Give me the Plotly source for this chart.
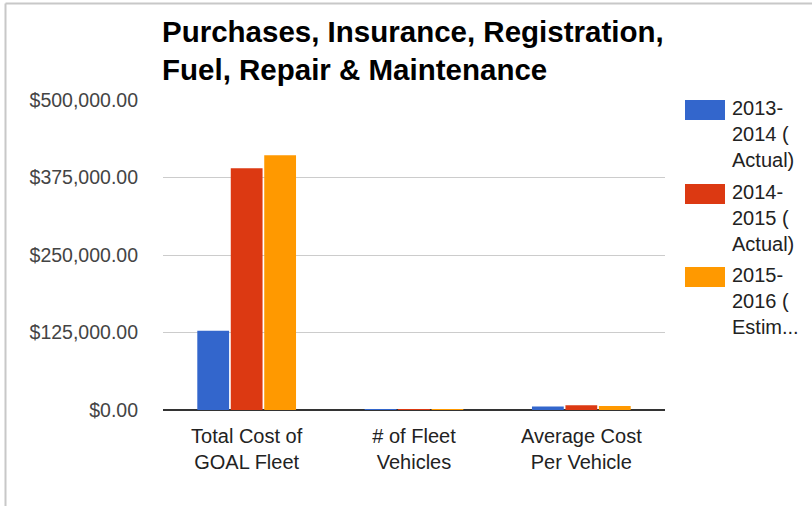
import plotly.graph_objects as go

categories = ["Total Cost of<br>GOAL Fleet", "# of Fleet<br>Vehicles", "Average Cost<br>Per Vehicle"]
series_names = ["2013-<br>2014 (<br>Actual)", "2014-<br>2015 (<br>Actual)", "2015-<br>2016 (<br>Estim..."]
series_full = ["2013-2014 (Actual)", "2014-2015 (Actual)", "2015-2016 (Estimated)"]
values_2013 = [128000, 23, 5500]
values_2014 = [390000, 50, 7800]
values_2015 = [411000, 65, 6300]
colors = ["#3366CC", "#DC3912", "#FF9900"]
y_ticks = [0, 125000, 250000, 375000, 500000]
title_text = "Purchases, Insurance, Registration,<br>Fuel, Repair & Maintenance"

W, H = 812, 506
L, R, T, B = 163, 147, 100, 96
PW, PH = W - L - R, H - T - B

def px(x):
    return (x - L) / PW

def py(y):
    return (H - B - y) / PH

FONT = "Liberation Sans, Arial, sans-serif"

fig = go.Figure()
for name, vals, col in zip(series_full, [values_2013, values_2014, values_2015], colors):
    fig.add_trace(go.Bar(x=categories, y=vals, name=name, marker_color=col,
                         marker_line_width=0))

fig.update_layout(
    width=W, height=H,
    margin=dict(l=L, r=R, t=T, b=B, pad=0),
    paper_bgcolor="white", plot_bgcolor="white",
    barmode="group", bargap=0.4, bargroupgap=0.05,
    showlegend=False,
    font=dict(family=FONT, color="#222222"),
)
fig.update_yaxes(range=[0, 500000], tickvals=y_ticks, tickformat="$,.2f",
                 showgrid=True, gridcolor="#cccccc", gridwidth=1,
                 zeroline=True, zerolinecolor="#333333", zerolinewidth=2,
                 showline=False, ticks="", ticklabelstandoff=24,
                 tickfont=dict(family=FONT, size=19.5, color="#444444"))
fig.update_xaxes(showgrid=False, showline=False, ticks="",
                 tickfont=dict(family=FONT, size=20, color="#222222"),
                 ticklabelstandoff=12)

shapes = []
annotations = []

# title
annotations.append(dict(text="<b>" + title_text + "</b>", xref="paper", yref="paper",
                        x=px(160), y=py(13), xanchor="left", yanchor="top", align="left",
                        showarrow=False,
                        font=dict(family=FONT, size=29.5, color="#000000")))

# legend drawn from series names
legend_top = [100, 184, 267]
for i, (nm, col) in enumerate(zip(series_names, colors)):
    t = legend_top[i]
    shapes.append(dict(type="rect", xref="paper", yref="paper",
                       x0=px(685), x1=px(725), y0=py(t), y1=py(t + 20),
                       fillcolor=col, line=dict(width=0)))
    annotations.append(dict(text=nm, xref="paper", yref="paper", x=px(730), y=py(t - 5),
                            xanchor="left", yanchor="top", align="left", showarrow=False,
                            font=dict(family=FONT, size=20, color="#222222")))

# frame of the screenshot
shapes.append(dict(type="line", xref="paper", yref="paper", x0=px(5.5), x1=px(812),
                   y0=py(3.5), y1=py(3.5), line=dict(color="#c8c8c8", width=2)))
shapes.append(dict(type="line", xref="paper", yref="paper", x0=px(5.5), x1=px(5.5),
                   y0=py(3.5), y1=py(506), line=dict(color="#c8c8c8", width=2)))

fig.update_layout(shapes=shapes, annotations=annotations)
fig.write_html("out.html", config={"displayModeBar": False},
               post_script="document.body.style.margin='0';")
